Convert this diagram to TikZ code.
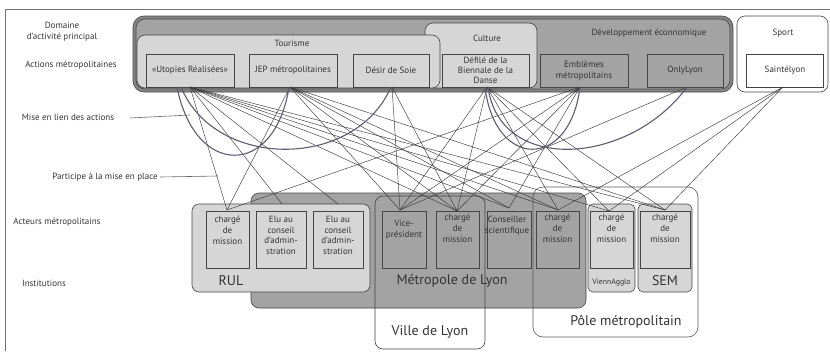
\documentclass[tikz,border=0pt]{standalone}
\usepackage{fontspec}
\setmainfont{PT Sans}
\usetikzlibrary{calc}
\definecolor{lightg}{HTML}{D6D6D6}
\definecolor{darkg}{HTML}{A3A3A3}
\definecolor{bandg}{HTML}{858585}
\definecolor{edgeg}{HTML}{454545}
\definecolor{arcg}{HTML}{5E5C6E}
\definecolor{txtg}{HTML}{333333}
\definecolor{lineg}{HTML}{3A3A3A}
\newcommand\smallf{\fontsize{9}{10.8}\selectfont}
\newcommand\bigf{\fontsize{14}{16}\selectfont}
\begin{document}
\begin{tikzpicture}[x=1pt,y=-1pt,
  every node/.style={outer sep=0pt},
  lab/.style={font=\smallf, text=txtg, inner sep=0pt, align=center},
  biglab/.style={font=\bigf, text=txtg, inner sep=0pt},
  actbox/.style={draw=edgeg, line width=0.6pt, fill=#1, minimum height=33pt, inner sep=1pt, font=\smallf, text=txtg, align=center},
  actor/.style={draw=edgeg, line width=0.6pt, fill=#1, minimum height=57pt},
  acttxt/.style={font=\smallf, text=txtg, inner sep=0pt, align=center, anchor=north},
  cont/.style={draw=edgeg, line width=0.6pt},
  link/.style={draw=lineg, line width=0.45pt},
  arcl/.style={draw=arcg, line width=1.1pt},
  pointer/.style={draw=black!60, line width=0.6pt}
]
\useasboundingbox (0,0) rectangle (830,351);
% frame
\draw[black!55, line width=0.7pt] (5,351) -- (5,9) -- (830,9);

% ---------- top containers ----------
\path[cont, fill=bandg, rounded corners=11pt] (133,16) rectangle (733,92);
\path[cont, fill=darkg, rounded corners=9pt] (136,19) rectangle (730,89);
\path[cont, fill=lightg, rounded corners=8pt] (425,23) rectangle (537,88);
\path[cont, fill=lightg, rounded corners=8pt] (137,35) rectangle (440,88);
\path[cont, fill=white, rounded corners=8pt] (737,16) rectangle (828,92);

\node[lab] (tTour) at (292,43) {Tourisme};
\node[lab] (tCult) at (487,38) {Culture};
\node[lab] (tDev) at (649,33) {Développement éconnomique};
\node[lab] (tSport) at (783,33) {Sport};

% ---------- actions ----------
\node[actbox=lightg, minimum width=88pt] (u) at (190,70.5) {«Utopies Réalisées»};
\node[actbox=lightg, minimum width=88pt] (j) at (293,70.5) {JEP métropolitaines};
\node[actbox=lightg, minimum width=76pt] (d) at (391,70.5) {Désir de Soie};
\node[actbox=lightg, minimum width=87pt] (f) at (485.5,70.5) {Défilé de la\\[-1pt]Biennale de la\\[-1pt]Danse};
\node[actbox=darkg, minimum width=88pt] (e) at (584,70.5) {Emblèmes\\métropolitains};
\node[actbox=darkg, minimum width=76pt] (o) at (685,70.5) {OnlyLyon};
\node[actbox=white, minimum width=77pt] (s) at (785,70.5) {Saintélyon};

% ---------- left labels ----------
\node[lab] (l1) at (62,25) {Domaine};
\node[lab] (l2) at (62,37) {d'activité principal};
\node[lab] (l3) at (71,65) {Actions métropolitaines};
\node[lab] (l4) at (68,117) {Mise en lien des actions};
\node[lab] (l5) at (105,177) {Participe à la mise en place};
\node[lab] (l6) at (57,222) {Acteurs métropolitains};
\node[lab] (l7) at (44,283) {Institutions};

% ---------- institutions ----------
\path[cont, fill=darkg, rounded corners=8pt] (251,193) rectangle (586,308);
\path[cont, fill=lightg, rounded corners=7pt] (192,204) rectangle (370,292);
\path[cont, fill=lightg, rounded corners=5pt] (588,204) rectangle (635,292);
\path[cont, fill=lightg, rounded corners=5pt] (638,204) rectangle (692,292);

% ---------- actors ----------
\node[actor=lightg, minimum width=43pt] (a1) at (227.5,239.5) {};
\node[actor=lightg, minimum width=50pt] (a2) at (281,239.5) {};
\node[actor=lightg, minimum width=50pt] (a3) at (338,239.5) {};
\node[actor=darkg, minimum width=44pt] (a4) at (404,239.5) {};
\node[actor=darkg, minimum width=43pt] (a5) at (457.5,239.5) {};
\node[actor=darkg, minimum width=44pt] (a6) at (509,239.5) {};
\node[actor=darkg, minimum width=43pt] (a7) at (557.5,239.5) {};
\node[actor=lightg, minimum width=43pt] (a8) at (611.5,239.5) {};
\node[actor=lightg, minimum width=50pt] (a9) at (665,239.5) {};

\node[acttxt] (t1) at ($(a1.north)+(0,5)$) {chargé\\de\\mission};
\node[acttxt] (t2) at ($(a2.north)+(0,5)$) {Elu au\\conseil\\d'admin-\\stration};
\node[acttxt] (t3) at ($(a3.north)+(0,5)$) {Elu au\\conseil\\d'admin-\\stration};
\node[acttxt] (t4) at ($(a4.north)+(0,9)$) {Vice-\\président};
\node[acttxt] (t5) at ($(a5.north)+(0,3)$) {chargé\\de\\mission};
\node[acttxt, xshift=-2pt] (t6) at ($(a6.north)+(0,5)$) {Conseiller\\scientifique};
\node[acttxt] (t7) at ($(a7.north)+(0,3)$) {chargé\\de\\mission};
\node[acttxt] (t8) at ($(a8.north)+(0,3)$) {chargé\\de\\mission};
\node[acttxt] (t9) at ($(a9.north)+(0,3)$) {chargé\\de\\mission};

% outline-only institutions on top
\path[cont, draw=black!75, rounded corners=8pt] (375,196) rectangle (485,349);
\path[cont, draw=black!65, rounded corners=10pt] (533,187) rectangle (698,337);

\node[biglab] (iRUL) at (231,281) {RUL};
\node[biglab] (iMet) at (452,281) {Métropole de Lyon};
\node[biglab] (iVil) at (430,332) {Ville de Lyon};
\node[lab, font=\fontsize{7.8}{9}\selectfont] (iVie) at (611.5,283) {ViennAgglo};
\node[biglab] (iSEM) at (665,281) {SEM};
\node[biglab] (iPol) at (626,322) {Pôle métropolitain};

% ---------- anchor coordinates ----------
\coordinate (us) at (190,87);
\coordinate (js) at (290,87);
\coordinate (ds) at (392,87);
\coordinate (fs) at (487,87);
\coordinate (es) at (580,87);
\coordinate (os) at (687,87);
\coordinate (ss) at (783,87);
\coordinate (n1) at (227,210);
\coordinate (n2) at (282,204);
\coordinate (n3) at (338,204);
\coordinate (n4) at (400,210);
\coordinate (n5) at (457,211);
\coordinate (n6) at (509,208);
\coordinate (n7) at (558,210);
\coordinate (n8) at (609,211);
\coordinate (n9) at (665,210);

% ---------- links ----------
\foreach \t in {n1,n2,n3,n5,n6,n7,n8,n9} \draw[link] (us) -- (\t);
\foreach \t in {n1,n4,n5,n6,n7,n9} \draw[link] (js) -- (\t);
\foreach \t in {n4,n5} \draw[link] (ds) -- (\t);
\foreach \t in {n4,n5,n7,n8,n9} \draw[link] (fs) -- (\t);
\foreach \t in {n1,n4,n5,n6} \draw[link] (es) -- (\t);
\foreach \t in {n4} \draw[link] (os) -- (\t);
\foreach \t in {n7,n8,n9} \draw[link] (ss) -- (\t);

% ---------- arcs ----------
\draw[arcl] (177,87) .. controls (195,178) and (275,178) .. (289,87);
\draw[arcl] (181,87) .. controls (215,170) and (355,170) .. (391,87);
\draw[arcl] (485,87) .. controls (495,170) and (570,170) .. (580,87);
\draw[arcl] (488,87) .. controls (500,175) and (630,165) .. (687,87);

% pointers
\coordinate (p1) at (130,118);
\coordinate (p2) at (160,177);
\draw[pointer] (p1) -- (190,115);
\draw[pointer] (p2) -- (218,176);
\end{tikzpicture}
\end{document}
